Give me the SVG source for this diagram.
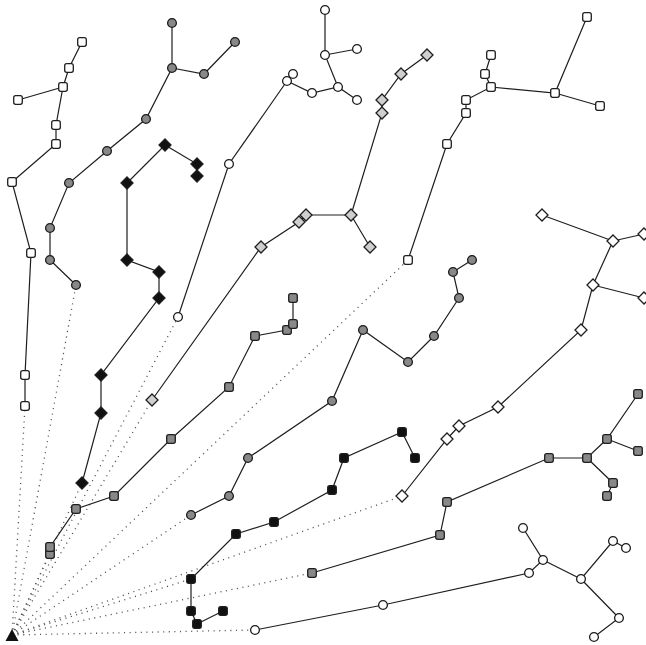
<svg xmlns="http://www.w3.org/2000/svg" xmlns:xlink="http://www.w3.org/1999/xlink" width="646" height="645" viewBox="0 0 646 645">
<style>
.e{fill:none;stroke:#1e1e1e;stroke-width:1.2}
.d{fill:none;stroke:#555;stroke-width:1.3;stroke-dasharray:1.1 4.5;stroke-linecap:butt}
.n{stroke:#1e1e1e;stroke-width:1.3}
.w{fill:#fff}
.g{fill:#888}
.l{fill:#cfcfcf}
.k{fill:#111}
</style>
<defs>
<path id="dm" d="M0,-6L6,0L0,6L-6,0Z"/>
<rect id="sq" x="-4.3" y="-4.3" width="8.6" height="8.6" rx="2"/>
<circle id="ci" r="4.4"/>
</defs>
<rect width="646" height="645" fill="#fff"/>
<g id="connectors">
<g id="root-links">
<line class="d" x1="12" y1="635" x2="25" y2="406"/>
<line class="d" x1="12" y1="635" x2="76" y2="285"/>
<line class="d" x1="12" y1="635" x2="82" y2="483"/>
<line class="d" x1="12" y1="635" x2="178" y2="317"/>
<line class="d" x1="12" y1="635" x2="152" y2="400"/>
<line class="d" x1="12" y1="635" x2="408" y2="260"/>
<line class="d" x1="12" y1="635" x2="50" y2="554"/>
<line class="d" x1="12" y1="635" x2="191" y2="515"/>
<line class="d" x1="12" y1="635" x2="191" y2="579"/>
<line class="d" x1="12" y1="635" x2="402" y2="496"/>
<line class="d" x1="12" y1="635" x2="312" y2="573"/>
<line class="d" x1="12" y1="635" x2="255" y2="630"/>
</g>
<polyline class="e" points="25,406 25,375 31,253 12,182 56,144 56,125 63,87 69,68 82,42"/>
<line class="e" x1="63" y1="87" x2="18" y2="100"/>
<polyline class="e" points="76,285 50,260 50,228 69,183 107,151 146,119 172,68 172,23"/>
<polyline class="e" points="172,68 204,74 235,42"/>
<polyline class="e" points="82,483 101,413 101,375 159,298 159,272 127,260 127,183 165,145 197,164 197,176"/>
<polyline class="e" points="178,317 229,164 287,81 293,74"/>
<polyline class="e" points="287,81 312,93 338,87 357,100"/>
<polyline class="e" points="338,87 325,55 325,10"/>
<line class="e" x1="325" y1="55" x2="357" y2="49"/>
<polyline class="e" points="152,400 261,247 299,222 306,215 351,215 370,247"/>
<polyline class="e" points="351,215 382,113 382,100 401,74 427,55"/>
<polyline class="e" points="408,260 447,144 466,113 466,100 491,87 555,93 587,17"/>
<polyline class="e" points="491,87 485,74 491,55"/>
<line class="e" x1="555" y1="93" x2="600" y2="106"/>
<polyline class="e" points="50,554 50,547 76,509 114,496 171,439 229,387 255,336 287,330 293,324 293,298"/>
<polyline class="e" points="191,515 229,496 248,458 332,401 363,330 408,362 434,336 459,298 453,272 472,260"/>
<polyline class="e" points="223,611 197,624 191,611 191,579 236,534 274,522 332,490 344,458 402,432 415,458"/>
<polyline class="e" points="402,496 447,439 459,426 498,407 581,330 593,285 613,241 542,215"/>
<line class="e" x1="593" y1="285" x2="644" y2="298"/>
<line class="e" x1="613" y1="241" x2="644" y2="234"/>
<polyline class="e" points="312,573 440,535 447,502 549,458 587,458 607,439 638,394"/>
<line class="e" x1="607" y1="439" x2="638" y2="451"/>
<polyline class="e" points="587,458 613,483 607,496"/>
<polyline class="e" points="255,630 383,605 529,573 543,560 523,528"/>
<polyline class="e" points="543,560 581,579 613,541 626,548"/>
<polyline class="e" points="581,579 619,618 594,637"/>
</g>
<g id="root"><path d="M12,629L18.5,641L5.5,641Z" fill="#111"/></g>
<g id="A1"><use xlink:href="#sq" class="n w" x="25" y="406"/></g>
<g id="A2"><use xlink:href="#sq" class="n w" x="25" y="375"/></g>
<g id="A3"><use xlink:href="#sq" class="n w" x="31" y="253"/></g>
<g id="A4"><use xlink:href="#sq" class="n w" x="12" y="182"/></g>
<g id="A5"><use xlink:href="#sq" class="n w" x="56" y="144"/></g>
<g id="A6"><use xlink:href="#sq" class="n w" x="56" y="125"/></g>
<g id="A7"><use xlink:href="#sq" class="n w" x="63" y="87"/></g>
<g id="A8"><use xlink:href="#sq" class="n w" x="18" y="100"/></g>
<g id="A9"><use xlink:href="#sq" class="n w" x="69" y="68"/></g>
<g id="A10"><use xlink:href="#sq" class="n w" x="82" y="42"/></g>
<g id="B1"><use xlink:href="#ci" class="n g" x="76" y="285"/></g>
<g id="B2"><use xlink:href="#ci" class="n g" x="50" y="260"/></g>
<g id="B3"><use xlink:href="#ci" class="n g" x="50" y="228"/></g>
<g id="B4"><use xlink:href="#ci" class="n g" x="69" y="183"/></g>
<g id="B5"><use xlink:href="#ci" class="n g" x="107" y="151"/></g>
<g id="B6"><use xlink:href="#ci" class="n g" x="146" y="119"/></g>
<g id="B7"><use xlink:href="#ci" class="n g" x="172" y="68"/></g>
<g id="B8"><use xlink:href="#ci" class="n g" x="172" y="23"/></g>
<g id="B9"><use xlink:href="#ci" class="n g" x="204" y="74"/></g>
<g id="B10"><use xlink:href="#ci" class="n g" x="235" y="42"/></g>
<g id="C1"><use xlink:href="#dm" class="n k" x="82" y="483"/></g>
<g id="C2"><use xlink:href="#dm" class="n k" x="101" y="413"/></g>
<g id="C3"><use xlink:href="#dm" class="n k" x="101" y="375"/></g>
<g id="C4"><use xlink:href="#dm" class="n k" x="159" y="298"/></g>
<g id="C5"><use xlink:href="#dm" class="n k" x="159" y="272"/></g>
<g id="C6"><use xlink:href="#dm" class="n k" x="127" y="260"/></g>
<g id="C7"><use xlink:href="#dm" class="n k" x="127" y="183"/></g>
<g id="C8"><use xlink:href="#dm" class="n k" x="165" y="145"/></g>
<g id="C9"><use xlink:href="#dm" class="n k" x="197" y="164"/></g>
<g id="C10"><use xlink:href="#dm" class="n k" x="197" y="176"/></g>
<g id="D1"><use xlink:href="#ci" class="n w" x="178" y="317"/></g>
<g id="D2"><use xlink:href="#ci" class="n w" x="229" y="164"/></g>
<g id="D3"><use xlink:href="#ci" class="n w" x="293" y="74"/></g>
<g id="D4"><use xlink:href="#ci" class="n w" x="287" y="81"/></g>
<g id="D5"><use xlink:href="#ci" class="n w" x="312" y="93"/></g>
<g id="D6"><use xlink:href="#ci" class="n w" x="338" y="87"/></g>
<g id="D7"><use xlink:href="#ci" class="n w" x="357" y="100"/></g>
<g id="D8"><use xlink:href="#ci" class="n w" x="325" y="55"/></g>
<g id="D9"><use xlink:href="#ci" class="n w" x="357" y="49"/></g>
<g id="D10"><use xlink:href="#ci" class="n w" x="325" y="10"/></g>
<g id="E1"><use xlink:href="#dm" class="n l" x="152" y="400"/></g>
<g id="E2"><use xlink:href="#dm" class="n l" x="261" y="247"/></g>
<g id="E3"><use xlink:href="#dm" class="n l" x="306" y="215"/></g>
<g id="E4"><use xlink:href="#dm" class="n l" x="299" y="222"/></g>
<g id="E5"><use xlink:href="#dm" class="n l" x="351" y="215"/></g>
<g id="E6"><use xlink:href="#dm" class="n l" x="370" y="247"/></g>
<g id="E7"><use xlink:href="#dm" class="n l" x="382" y="113"/></g>
<g id="E8"><use xlink:href="#dm" class="n l" x="382" y="100"/></g>
<g id="E9"><use xlink:href="#dm" class="n l" x="401" y="74"/></g>
<g id="E10"><use xlink:href="#dm" class="n l" x="427" y="55"/></g>
<g id="F1"><use xlink:href="#sq" class="n w" x="408" y="260"/></g>
<g id="F2"><use xlink:href="#sq" class="n w" x="447" y="144"/></g>
<g id="F3"><use xlink:href="#sq" class="n w" x="466" y="113"/></g>
<g id="F4"><use xlink:href="#sq" class="n w" x="466" y="100"/></g>
<g id="F5"><use xlink:href="#sq" class="n w" x="491" y="87"/></g>
<g id="F6"><use xlink:href="#sq" class="n w" x="485" y="74"/></g>
<g id="F7"><use xlink:href="#sq" class="n w" x="491" y="55"/></g>
<g id="F8"><use xlink:href="#sq" class="n w" x="555" y="93"/></g>
<g id="F9"><use xlink:href="#sq" class="n w" x="587" y="17"/></g>
<g id="F10"><use xlink:href="#sq" class="n w" x="600" y="106"/></g>
<g id="G1"><use xlink:href="#sq" class="n g" x="50" y="554"/></g>
<g id="G2"><use xlink:href="#sq" class="n g" x="50" y="547"/></g>
<g id="G3"><use xlink:href="#sq" class="n g" x="76" y="509"/></g>
<g id="G4"><use xlink:href="#sq" class="n g" x="114" y="496"/></g>
<g id="G5"><use xlink:href="#sq" class="n g" x="171" y="439"/></g>
<g id="G6"><use xlink:href="#sq" class="n g" x="229" y="387"/></g>
<g id="G7"><use xlink:href="#sq" class="n g" x="255" y="336"/></g>
<g id="G8"><use xlink:href="#sq" class="n g" x="287" y="330"/></g>
<g id="G9"><use xlink:href="#sq" class="n g" x="293" y="324"/></g>
<g id="G10"><use xlink:href="#sq" class="n g" x="293" y="298"/></g>
<g id="H1"><use xlink:href="#ci" class="n g" x="191" y="515"/></g>
<g id="H2"><use xlink:href="#ci" class="n g" x="229" y="496"/></g>
<g id="H3"><use xlink:href="#ci" class="n g" x="248" y="458"/></g>
<g id="H4"><use xlink:href="#ci" class="n g" x="332" y="401"/></g>
<g id="H5"><use xlink:href="#ci" class="n g" x="363" y="330"/></g>
<g id="H6"><use xlink:href="#ci" class="n g" x="408" y="362"/></g>
<g id="H7"><use xlink:href="#ci" class="n g" x="434" y="336"/></g>
<g id="H8"><use xlink:href="#ci" class="n g" x="459" y="298"/></g>
<g id="H9"><use xlink:href="#ci" class="n g" x="453" y="272"/></g>
<g id="H10"><use xlink:href="#ci" class="n g" x="472" y="260"/></g>
<g id="I1"><use xlink:href="#sq" class="n k" x="191" y="579"/></g>
<g id="I2"><use xlink:href="#sq" class="n k" x="191" y="611"/></g>
<g id="I3"><use xlink:href="#sq" class="n k" x="197" y="624"/></g>
<g id="I4"><use xlink:href="#sq" class="n k" x="223" y="611"/></g>
<g id="I5"><use xlink:href="#sq" class="n k" x="236" y="534"/></g>
<g id="I6"><use xlink:href="#sq" class="n k" x="274" y="522"/></g>
<g id="I7"><use xlink:href="#sq" class="n k" x="332" y="490"/></g>
<g id="I8"><use xlink:href="#sq" class="n k" x="344" y="458"/></g>
<g id="I9"><use xlink:href="#sq" class="n k" x="402" y="432"/></g>
<g id="I10"><use xlink:href="#sq" class="n k" x="415" y="458"/></g>
<g id="J1"><use xlink:href="#dm" class="n w" x="402" y="496"/></g>
<g id="J2"><use xlink:href="#dm" class="n w" x="447" y="439"/></g>
<g id="J3"><use xlink:href="#dm" class="n w" x="459" y="426"/></g>
<g id="J4"><use xlink:href="#dm" class="n w" x="498" y="407"/></g>
<g id="J5"><use xlink:href="#dm" class="n w" x="581" y="330"/></g>
<g id="J6"><use xlink:href="#dm" class="n w" x="593" y="285"/></g>
<g id="J7"><use xlink:href="#dm" class="n w" x="644" y="298"/></g>
<g id="J8"><use xlink:href="#dm" class="n w" x="613" y="241"/></g>
<g id="J9"><use xlink:href="#dm" class="n w" x="644" y="234"/></g>
<g id="J10"><use xlink:href="#dm" class="n w" x="542" y="215"/></g>
<g id="K1"><use xlink:href="#sq" class="n g" x="312" y="573"/></g>
<g id="K2"><use xlink:href="#sq" class="n g" x="440" y="535"/></g>
<g id="K3"><use xlink:href="#sq" class="n g" x="447" y="502"/></g>
<g id="K4"><use xlink:href="#sq" class="n g" x="549" y="458"/></g>
<g id="K5"><use xlink:href="#sq" class="n g" x="587" y="458"/></g>
<g id="K6"><use xlink:href="#sq" class="n g" x="607" y="439"/></g>
<g id="K7"><use xlink:href="#sq" class="n g" x="638" y="394"/></g>
<g id="K8"><use xlink:href="#sq" class="n g" x="638" y="451"/></g>
<g id="K9"><use xlink:href="#sq" class="n g" x="613" y="483"/></g>
<g id="K10"><use xlink:href="#sq" class="n g" x="607" y="496"/></g>
<g id="L1"><use xlink:href="#ci" class="n w" x="255" y="630"/></g>
<g id="L2"><use xlink:href="#ci" class="n w" x="383" y="605"/></g>
<g id="L3"><use xlink:href="#ci" class="n w" x="529" y="573"/></g>
<g id="L4"><use xlink:href="#ci" class="n w" x="543" y="560"/></g>
<g id="L5"><use xlink:href="#ci" class="n w" x="523" y="528"/></g>
<g id="L6"><use xlink:href="#ci" class="n w" x="581" y="579"/></g>
<g id="L7"><use xlink:href="#ci" class="n w" x="613" y="541"/></g>
<g id="L8"><use xlink:href="#ci" class="n w" x="626" y="548"/></g>
<g id="L9"><use xlink:href="#ci" class="n w" x="619" y="618"/></g>
<g id="L10"><use xlink:href="#ci" class="n w" x="594" y="637"/></g>
</svg>
